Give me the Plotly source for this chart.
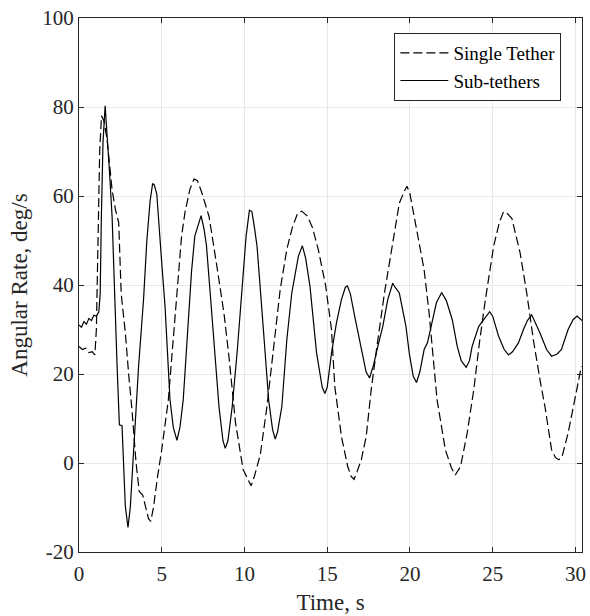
import plotly.graph_objects as go

# Sub-tethers (solid)
t_sub = [0.0, 0.15, 0.3, 0.45, 0.6, 0.75, 0.9, 1.05, 1.2, 1.28, 1.35, 1.45, 1.58, 1.7, 1.85, 2.0, 2.16, 2.3, 2.44, 2.6, 2.8, 2.96, 3.1, 3.3, 3.6, 3.9, 4.1, 4.3, 4.45, 4.55, 4.7, 5.0, 5.2, 5.5, 5.7, 5.92, 6.1, 6.3, 6.6, 6.8, 7.0, 7.15, 7.38, 7.56, 7.7, 7.96, 8.26, 8.46, 8.7, 8.84, 9.0, 9.26, 9.56, 9.86, 10.1, 10.3, 10.45, 10.6, 10.76, 11.16, 11.46, 11.7, 11.86, 12.0, 12.26, 12.56, 12.86, 13.26, 13.5, 13.7, 13.96, 14.36, 14.7, 14.86, 15.0, 15.26, 15.56, 15.86, 16.1, 16.22, 16.4, 16.66, 17.06, 17.35, 17.56, 17.8, 18.06, 18.36, 18.66, 18.96, 19.1, 19.36, 19.76, 19.96, 20.2, 20.4, 20.6, 20.86, 21.06, 21.36, 21.6, 21.92, 22.2, 22.56, 22.86, 23.1, 23.4, 23.6, 23.76, 24.16, 24.5, 24.82, 25.0, 25.36, 25.7, 25.96, 26.2, 26.56, 26.86, 27.1, 27.36, 27.6, 27.86, 28.26, 28.56, 28.9, 29.16, 29.56, 29.86, 30.1, 30.4]
v_sub = [31.0, 30.5, 31.8, 31.2, 32.5, 32.0, 33.2, 33.0, 34.0, 38, 55, 72, 80.3, 74, 65, 55.4, 35.2, 22, 8.6, 8.4, -9.7, -14.5, -10, 3, 21.7, 36.7, 50, 59, 62.8, 62.5, 60.5, 45, 35.2, 14.2, 8, 5.1, 8, 14.2, 33, 43, 51, 53, 55.6, 52.5, 49, 36.7, 23.2, 12.7, 5, 3.3, 5, 12.7, 25, 39.7, 51, 56.8, 56.5, 53, 48.7, 29.2, 14.2, 7.5, 5.4, 7, 12.7, 27.7, 38.2, 46.5, 48.8, 46, 39.7, 24.7, 17, 15.6, 17, 24.7, 31.5, 36.7, 39.5, 39.8, 38, 33, 25.5, 20.5, 19.1, 22, 26.2, 30.7, 36.7, 40.4, 39.5, 38.2, 30.7, 24.7, 19.5, 18.1, 20.5, 25.5, 27, 32.2, 36, 38.3, 36.5, 32.2, 26.2, 23, 21.5, 23, 26.2, 30.7, 32.5, 34, 33, 28.5, 25.5, 24.3, 25, 27, 30, 32, 33.3, 31.5, 29.2, 25.5, 24, 24.5, 25.5, 30, 32.2, 33, 32]

# Single Tether (dashed)
t_single = [0.0, 0.2, 0.4, 0.6, 0.8, 0.96, 1.05, 1.15, 1.25, 1.36, 1.5, 1.7, 2.0, 2.2, 2.4, 2.55, 2.8, 3.0, 3.2, 3.45, 3.64, 3.85, 4.0, 4.2, 4.34, 4.5, 4.75, 5.0, 5.4, 5.9, 6.2, 6.4, 6.7, 6.95, 7.15, 7.4, 7.86, 8.3, 8.76, 9.06, 9.46, 9.92, 10.2, 10.4, 10.6, 10.96, 11.36, 11.76, 12.16, 12.56, 12.9, 13.2, 13.46, 13.8, 14.1, 14.46, 14.9, 15.26, 15.46, 15.86, 16.24, 16.45, 16.62, 16.8, 17.06, 17.36, 17.66, 18.0, 18.46, 18.96, 19.36, 19.65, 19.82, 20.0, 20.36, 20.86, 21.16, 21.64, 22.14, 22.5, 22.74, 23.06, 23.46, 23.86, 24.2, 24.56, 25.06, 25.4, 25.66, 25.9, 26.16, 26.4, 26.66, 27.06, 27.46, 27.86, 28.16, 28.56, 28.8, 29.0, 29.2, 29.56, 30.06, 30.36]
v_single = [26.2, 25.5, 25.8, 24.8, 25.0, 24.3, 30, 50, 70, 78, 77, 72.6, 61.4, 57, 54, 38, 29.3, 20, 12, 0, -6.4, -7.2, -9.7, -12.5, -13.1, -10, -3, 3, 14.2, 37, 51, 56.2, 61.5, 63.8, 63.5, 61, 55.4, 45, 33.7, 24, 9, -1.5, -3.5, -5.1, -3, 1.9, 12.7, 26.2, 39, 48, 53, 56, 56.6, 55.5, 53, 48, 40, 30, 17.2, 6, -0.8, -3, -3.7, -2, 0.7, 6, 16.5, 26, 38.2, 49.4, 58.4, 61, 62.2, 60.5, 53.2, 43.4, 33.7, 14.2, 3, -1, -2.7, -0.8, 6.7, 16.5, 27, 36.7, 48.7, 54, 56.5, 56, 55, 51.5, 47.2, 38.2, 27.7, 18.7, 12.7, 3, 1.2, 0.75, 1.5, 6.7, 16.5, 21.7]

x_ticks = [0, 5, 10, 15, 20, 25, 30]
y_ticks = [-20, 0, 20, 40, 60, 80, 100]
y_tick_labels = ["-20", "0", "20", "40", "60", "80", "100"]

FONT = "Liberation Serif"
INK = "#262626"

fig = go.Figure()
fig.add_trace(go.Scatter(x=t_single, y=v_single, mode="lines", name="Single Tether",
                         line=dict(color="black", width=1.2, dash="9px,4px")))
fig.add_trace(go.Scatter(x=t_sub, y=v_sub, mode="lines", name="Sub-tethers",
                         line=dict(color="black", width=1.2)))

axis_common = dict(showline=True, linecolor=INK, linewidth=1, mirror="ticks",
                   ticks="inside", ticklen=5, tickcolor=INK, tickwidth=1,
                   showgrid=True, gridcolor="#e8e8e8", gridwidth=1, zeroline=False,
                   tickfont=dict(family=FONT, size=21, color=INK))

fig.update_xaxes(range=[0, 30.4], tickvals=x_ticks, ticklabelstandoff=3, **axis_common,
                 title=dict(text="Time, s", font=dict(family=FONT, size=23, color=INK), standoff=8))
fig.update_yaxes(range=[-20, 100], tickvals=y_ticks, ticktext=y_tick_labels, **axis_common,
                 title=dict(text="Angular Rate, deg/s", font=dict(family=FONT, size=23, color=INK), standoff=8))

fig.update_layout(
    width=590, height=616,
    margin=dict(l=79, r=4, t=18, b=64),
    paper_bgcolor="white", plot_bgcolor="white",
    font=dict(family=FONT, color=INK),
    legend=dict(x=0.959, xanchor="right", y=0.972, yanchor="top",
                bgcolor="white", bordercolor=INK, borderwidth=1, itemwidth=48,
                font=dict(family=FONT, size=19, color="black")),
)

fig.write_html("out.html")
